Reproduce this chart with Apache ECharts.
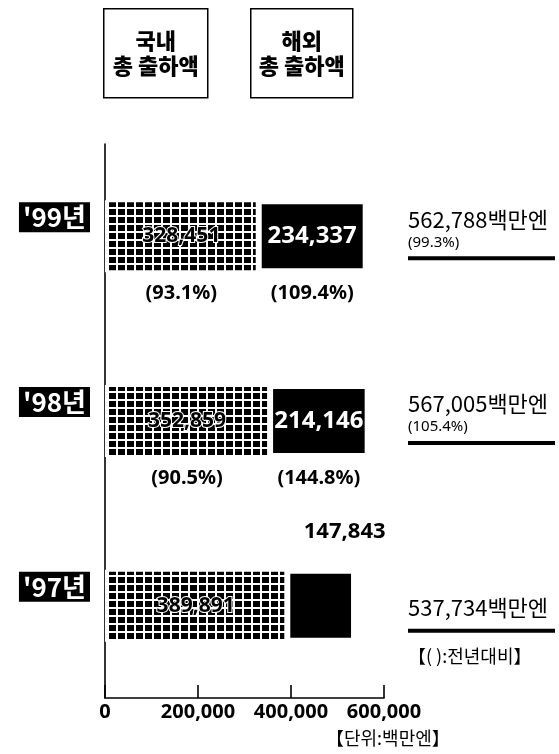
<!DOCTYPE html>
<html>
<head>
<meta charset="utf-8">
<script src="https://cdn.jsdelivr.net/npm/echarts@6/dist/echarts.min.js"></script>
<style>
  html, body { margin: 0; padding: 0; background: #fff; }
  #chart { width: 559px; height: 754px; }
</style>
</head>
<body>
<div id="chart"></div>
<script>
// Shipments by year, in millions of yen
const years = ["'99년", "'98년", "'97년"];
const domestic = [328451, 352859, 389891];
const overseas = [234337, 214146, 147843];
const totals = [562788, 567005, 537734];
const domesticPct = ['(93.1%)', '(90.5%)', null];
const overseasPct = ['(109.4%)', '(144.8%)', null];
const totalPct = ['(99.3%)', '(105.4%)', null];
const xTicks = [0, 200000, 400000, 600000];
const headers = ['국내\n총 출하액', '해외\n총 출하액'];
const unitNote = '【단위:백만엔】';
const pctNote = '【( ):전년대비】';

const KR = '"Noto Sans CJK KR", "Noto Sans", sans-serif';
const NUM = '"Noto Sans", "DejaVu Sans", sans-serif';

// Grid of small black squares for the domestic bars
function squarePattern() {
  const c = document.createElement('canvas');
  c.width = 9; c.height = 8;
  const ctx = c.getContext('2d');
  ctx.fillStyle = '#fff';
  ctx.fillRect(0, 0, 9, 8);
  ctx.fillStyle = '#000';
  ctx.fillRect(1, 1, 7, 6);
  return c;
}

const fmt = v => v.toLocaleString('en-US');

const chart = echarts.init(document.getElementById('chart'), null, { renderer: 'canvas' });

const overseasData = overseas.map((v, i) => {
  if (i === overseas.length - 1) {
    return {
      value: v,
      label: { position: 'top', color: '#000', fontSize: 22, offset: [24, -22] }
    };
  }
  return v;
});

// Boxed column headers
function headerBox(left, width, text) {
  return {
    type: 'group', left: left, top: 8,
    children: [
      {
        type: 'rect',
        shape: { x: 0, y: 0, width: width, height: 89 },
        style: { fill: '#fff', stroke: '#000', lineWidth: 1.5 }
      },
      {
        type: 'text', x: width / 2, y: 44,
        style: {
          text: text, align: 'center', verticalAlign: 'middle',
          textAlign: 'center', textVerticalAlign: 'middle',
          font: '900 22px ' + KR, lineHeight: 25, fill: '#000'
        }
      }
    ]
  };
}

chart.setOption({
  animation: false,
  backgroundColor: '#fff',
  grid: { left: 105, right: 175, top: 144, bottom: 56, containLabel: false },
  xAxis: {
    type: 'value',
    min: xTicks[0],
    max: xTicks[xTicks.length - 1],
    interval: xTicks[1] - xTicks[0],
    axisLine: { show: true, lineStyle: { color: '#000', width: 1.6 } },
    axisTick: { show: true, inside: true, length: 13, lineStyle: { color: '#000', width: 1.6 } },
    splitLine: { show: false },
    axisLabel: {
      color: '#000', fontWeight: 'bold', fontSize: 20, fontFamily: NUM, margin: 4,
      formatter: v => fmt(v)
    }
  },
  yAxis: {
    type: 'category',
    inverse: true,
    data: years,
    axisLine: { show: true, lineStyle: { color: '#000', width: 1.6 } },
    axisTick: { show: false },
    axisLabel: { show: false },
    splitLine: { show: false }
  },
  graphic: [
    headerBox(103, 104, headers[0]),
    headerBox(250, 102, headers[1]),
    {
      type: 'text', left: 408, top: 647,
      style: { text: pctNote, font: '18px ' + KR, fill: '#000' }
    },
    {
      type: 'text', left: 326, top: 729,
      style: { text: unitNote, font: '18px ' + KR, fill: '#000' }
    }
  ],
  series: [
    {
      name: '국내 총 출하액',
      type: 'bar',
      stack: 'total',
      barWidth: 72,
      data: domestic,
      itemStyle: {
        color: { image: squarePattern(), repeat: 'repeat' },
        borderColor: '#fff', borderWidth: 2
      },
      label: {
        show: true, position: 'inside', formatter: p => fmt(p.value),
        color: '#000', fontWeight: 'bold', fontSize: 21, fontFamily: NUM,
        textBorderColor: '#fff', textBorderWidth: 2
      }
    },
    {
      name: '해외 총 출하액',
      type: 'bar',
      stack: 'total',
      barWidth: 72,
      data: overseasData,
      itemStyle: { color: '#000', borderColor: '#fff', borderWidth: 4 },
      label: {
        show: true, position: 'inside', formatter: p => fmt(p.value),
        color: '#fff', fontWeight: 'bold', fontSize: 24, fontFamily: NUM
      }
    },
    {
      // year tags, year-on-year ratios and totals per row
      type: 'custom',
      clip: false,
      silent: true,
      data: years.map((y, i) => [0, i]),
      encode: { x: 0, y: 1 },
      renderItem: function (params, api) {
        const i = params.dataIndex;
        const base = api.coord([0, i]);
        const x0 = base[0];
        const cy = base[1];
        const xr = api.coord([xTicks[xTicks.length - 1], i])[0] + 24;
        const kids = [];
        kids.push({
          type: 'text',
          style: {
            text: years[i], x: x0 - 15, y: cy - 19, align: 'right', verticalAlign: 'middle',
            fill: '#fff', backgroundColor: '#000', padding: [3, 4, 1, 4],
            font: 'bold 26px ' + KR
          }
        });
        if (domesticPct[i]) {
          kids.push({
            type: 'text',
            style: {
              text: domesticPct[i], x: api.coord([domestic[i] / 2, i])[0], y: cy + 57,
              align: 'center', verticalAlign: 'middle', fill: '#000',
              font: 'bold 20px ' + NUM
            }
          });
        }
        if (overseasPct[i]) {
          kids.push({
            type: 'text',
            style: {
              text: overseasPct[i], x: api.coord([domestic[i] + overseas[i] / 2, i])[0], y: cy + 57,
              align: 'center', verticalAlign: 'middle', fill: '#000',
              font: 'bold 20px ' + NUM
            }
          });
        }
        const hasPct = !!totalPct[i];
        kids.push({
          type: 'text',
          style: {
            text: fmt(totals[i]) + '백만엔', x: xr, y: hasPct ? cy - 17 : cy + 2,
            align: 'left', verticalAlign: 'middle', fill: '#000',
            font: '22px ' + KR
          }
        });
        if (hasPct) {
          kids.push({
            type: 'text',
            style: {
              text: totalPct[i], x: xr, y: cy + 6,
              align: 'left', verticalAlign: 'middle', fill: '#000',
              font: '15px ' + NUM
            }
          });
        }
        kids.push({
          type: 'rect',
          shape: { x: xr, y: hasPct ? cy + 20 : cy + 23, width: 147, height: 4 },
          style: { fill: '#000' }
        });
        return { type: 'group', children: kids };
      }
    }
  ]
});
</script>
</body>
</html>
